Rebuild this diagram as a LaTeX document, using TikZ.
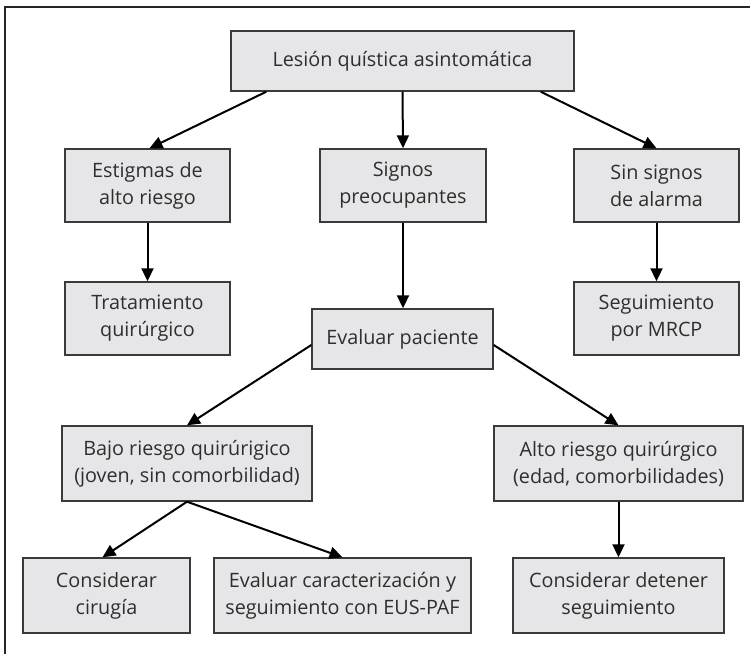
\documentclass[tikz,border=0pt]{standalone}
\usepackage{fontspec}
\setmainfont{Open Sans}
\usetikzlibrary{arrows.meta,calc}
\definecolor{boxfill}{HTML}{E6E6E8}
\definecolor{boxline}{HTML}{3A3A3A}
\definecolor{txt}{HTML}{2E2E2E}
\tikzset{
  box/.style={draw=boxline,line width=1.4pt,fill=boxfill,rectangle,inner sep=0pt,
    align=center,text=txt,font=\fontsize{19.8}{27}\selectfont},
  arr/.style={draw=black,line width=2pt,-{Triangle[length=13pt,width=12pt]}},
}
\begin{document}
\begin{tikzpicture}[x=1pt,y=-1pt]
\useasboundingbox (0,0) rectangle (750,654);
\draw[line width=1.2pt,draw=black!85] (5,654) -- (5,7) -- (750,7);
\node[box,minimum width=343pt,minimum height=60pt] (root) at (402.5,61) {Lesión quística asintomática};
\node[box,minimum width=165pt,minimum height=73pt] (est) at (147.5,185.5) {Estigmas de\\alto riesgo};
\node[box,minimum width=166pt,minimum height=73pt] (sig) at (403,185.5) {Signos\\preocupantes};
\node[box,minimum width=165pt,minimum height=73pt] (sin) at (656.5,185.5) {Sin signos\\de alarma};
\node[box,minimum width=165pt,minimum height=73pt] (tra) at (147.5,318.5) {Tratamiento\\quirúrgico};
\node[box,minimum width=165pt,minimum height=73pt] (seg) at (656.5,318.5) {Seguimiento\\por MRCP};
\node[box,minimum width=181pt,minimum height=60pt] (evp) at (402.5,339) {Evaluar paciente};
\node[box,minimum width=250pt,minimum height=75pt] (bajo) at (187,463.5) {Bajo riesgo quirúrigico\\(joven, sin comorbilidad)};
\node[box,minimum width=249pt,minimum height=75pt] (alto) at (618.5,463.5) {Alto riesgo quirúrgico\\(edad, comorbilidades)};
\node[box,minimum width=167pt,minimum height=75pt] (cir) at (106.5,595.5) {Considerar\\cirugía};
\node[box,minimum width=257pt,minimum height=75pt] (car) at (342.5,595.5) {Evaluar caracterización y\\seguimiento con EUS-PAF};
\node[box,minimum width=211pt,minimum height=75pt] (det) at (618.5,595.5) {Considerar detener\\seguimiento};
\draw[arr] ($(root.south west)+(36,0)$) -- ($(est.north)+(2,0)$);
\draw[arr] (root.south) -- (sig.north);
\draw[arr] ($(root.south east)+(-34,0)$) -- (sin.north);
\draw[arr] (est.south) -- (tra.south |- tra.north);
\draw[arr] (sig.south) -- (sig.south |- evp.north);
\draw[arr] (sin.south) -- (seg.north);
\draw[arr] ($(evp.west)+(0,6)$) -- (bajo.north);
\draw[arr] ($(evp.east)+(0,6)$) -- (alto.north);
\draw[arr] (bajo.south) -- ($(cir.north)+(-4,0)$);
\draw[arr] (bajo.south) -- (car.north);
\draw[arr] (alto.south) -- (det.north);
\end{tikzpicture}
\end{document}
